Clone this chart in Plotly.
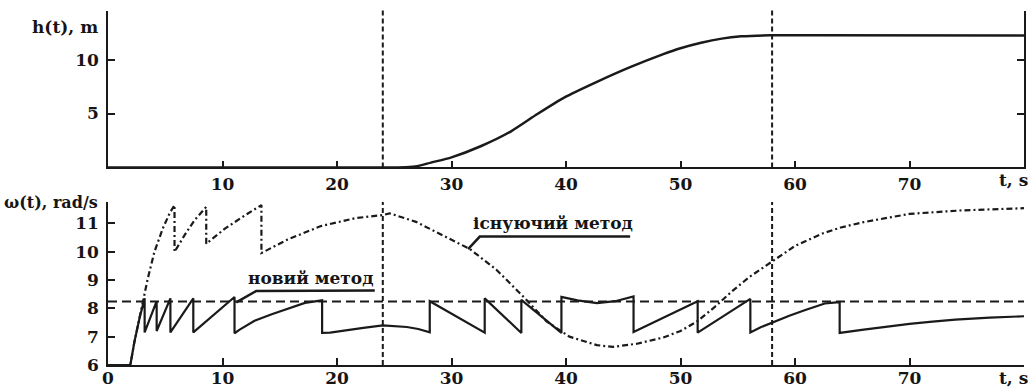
import plotly.graph_objects as go

# ---- data ----
h_t = [0, 24, 26, 27, 28.2, 30, 32.6, 35.2, 37.5, 39.8, 42.7, 45.6, 48.5, 50, 51.8, 53.6, 55.3, 57.8, 62, 80]
h_val = [0, 0, 0.03, 0.12, 0.45, 0.94, 1.99, 3.35, 4.95, 6.45, 7.93, 9.29, 10.5, 11.05, 11.56, 11.94, 12.15, 12.25, 12.25, 12.22]

new_t = [0, 1.95, 2.3, 2.75, 3.2, 3.2, 4.25, 4.25, 5.45, 5.45, 7.45, 7.45, 11.05, 11.05, 11.5, 12.8, 14.3,
         15.7, 17.2, 18.7, 18.7, 19.4, 21.0, 22.3, 24.0, 26.1, 27.1, 28.1, 28.1, 32.9, 32.9, 36.1, 36.1,
         39.6, 39.6, 41.0, 42.7, 44.3, 45.9, 45.9, 51.5, 51.5, 56.1, 56.1, 57.0, 58.0, 59.5, 60.9, 62.6,
         63.9, 63.9, 66.0, 68.0, 70.0, 72.0, 74.0, 77.0, 80.0]
new_w = [6.0, 6.0, 6.8, 7.65, 8.35, 7.15, 8.25, 7.2, 8.35, 7.15, 8.35, 7.15, 8.4, 7.12, 7.25, 7.56, 7.79,
         7.98, 8.19, 8.28, 7.13, 7.14, 7.24, 7.31, 7.4, 7.34, 7.27, 7.15, 8.25, 7.14, 8.35, 7.13, 8.3,
         7.13, 8.4, 8.28, 8.18, 8.25, 8.42, 7.16, 8.25, 7.14, 8.33, 7.15, 7.33, 7.5, 7.74, 7.94, 8.17,
         8.22, 7.13, 7.25, 7.36, 7.45, 7.53, 7.6, 7.67, 7.72]

old_t = [0, 1.95, 2.3, 2.75, 3.04, 3.19, 3.48, 4.06, 4.79, 5.38, 5.81, 5.81, 6.69, 7.56, 8.58, 8.58,
         10.18, 11.93, 13.4, 13.4, 15.7, 18.6, 21.6, 24.0, 24.6, 26.9, 29.3, 31.6, 33.9, 36.3, 38.3,
         40.3, 42.7, 44.1, 46.2, 48.5, 50.0, 51.5, 53.0, 54.5, 56.0, 58.0, 60.0, 62.4, 64.0, 66.0,
         70.0, 74.4, 80.0]
old_w = [6.0, 6.0, 6.8, 7.65, 8.23, 8.59, 9.06, 10.0, 10.82, 11.35, 11.64, 9.99, 10.58, 11.11, 11.58, 10.28,
         10.8, 11.27, 11.64, 9.95, 10.43, 10.9, 11.18, 11.29, 11.35, 11.05, 10.57, 10.09, 9.37, 8.4, 7.54,
         7.0, 6.7, 6.64, 6.75, 6.97, 7.2, 7.55, 8.05, 8.6, 9.1, 9.65, 10.2, 10.64, 10.85, 11.04,
         11.33, 11.45, 11.53]

ref_level = 8.24
marker_times = [24, 58]

top_xticks = [10, 20, 30, 40, 50, 60, 70]
bot_xticks = [0, 10, 20, 30, 40, 50, 60, 70]
top_yticks = [5, 10]
bot_yticks = [6, 7, 8, 9, 10, 11]

FONT = dict(family="DejaVu Serif", size=17, color="#151515", weight="bold")
FONT_SMALL = dict(family="DejaVu Serif", size=16, color="#151515", weight="bold")
INK = "#1a1a1a"

fig = go.Figure()
fig.add_trace(go.Scatter(x=h_t, y=h_val, mode="lines", line=dict(color=INK, width=2.5, shape="spline", smoothing=0.6),
                         xaxis="x", yaxis="y", showlegend=False, hoverinfo="skip"))
fig.add_trace(go.Scatter(x=old_t, y=old_w, mode="lines", line=dict(color=INK, width=2.2, dash="6px,3px,2px,3px"),
                         xaxis="x2", yaxis="y2", showlegend=False, hoverinfo="skip"))
fig.add_trace(go.Scatter(x=new_t, y=new_w, mode="lines", line=dict(color=INK, width=2.2),
                         xaxis="x2", yaxis="y2", showlegend=False, hoverinfo="skip"))

axis_common = dict(showgrid=False, zeroline=False, showline=True, linecolor=INK, linewidth=1.5,
                   ticks="inside", ticklen=7, tickwidth=1.5, tickcolor=INK, tickfont=FONT,
                   automargin=False)

fig.update_layout(
    width=1032, height=389,
    margin=dict(l=108, r=8, t=11, b=24, autoexpand=False),
    paper_bgcolor="white", plot_bgcolor="white",
    xaxis=dict(domain=[0, 1], range=[0, 80], anchor="y", tickvals=top_xticks, **axis_common),
    yaxis=dict(domain=[0.558, 1], range=[0, 14.5], anchor="x", tickvals=top_yticks, mirror="ticks",
               ticklabelstandoff=4, **axis_common),
    xaxis2=dict(domain=[0, 1], range=[0, 80], anchor="y2", tickvals=bot_xticks,
                ticklabelstandoff=-3, **axis_common),
    yaxis2=dict(domain=[0, 0.4605], range=[6, 11.75], anchor="x2", tickvals=bot_yticks,
                ticklabelstandoff=4, **axis_common),
)

shapes = []
for tm in marker_times:
    shapes.append(dict(type="line", xref="x", yref="y domain", x0=tm, x1=tm, y0=0, y1=1.02,
                       line=dict(color=INK, width=2, dash="5px,3px")))
    shapes.append(dict(type="line", xref="x2", yref="y2 domain", x0=tm, x1=tm, y0=0, y1=1.0,
                       line=dict(color=INK, width=2, dash="5px,3px")))
shapes.append(dict(type="line", xref="x2 domain", yref="y2", x0=0, x1=1, y0=ref_level, y1=ref_level,
                   line=dict(color=INK, width=2, dash="9px,5px")))
# leader lines for labels
shapes.append(dict(type="path", xref="x2", yref="y2", path="M 11.2 8.21 L 12.95 8.61 L 23.3 8.63",
                   line=dict(color=INK, width=2.5)))
shapes.append(dict(type="path", xref="x2", yref="y2", path="M 31.45 10.09 L 32.47 10.53 L 45.6 10.53",
                   line=dict(color=INK, width=2.5)))
fig.update_layout(shapes=shapes)

ann = [
    dict(text="h(t), m", xref="paper", yref="paper", x=-0.0087, y=0.955, xanchor="right", yanchor="middle", font=FONT),
    dict(text="ω(t), rad/s", xref="paper", yref="paper", x=-0.0087, y=0.458, xanchor="right", yanchor="middle", font=FONT_SMALL),
    dict(text="t, s", xref="paper", yref="paper", x=1.0066, y=0.5226, xanchor="right", yanchor="middle", font=FONT),
    dict(text="t, s", xref="paper", yref="paper", x=1.0066, y=-0.0367, xanchor="right", yanchor="middle", font=FONT),
    dict(text="новий метод", xref="x2", yref="y2", x=17.7, y=9.07, xanchor="center", yanchor="middle", font=FONT),
    dict(text="існуючий метод", xref="x2", yref="y2", x=38.9, y=11.01, xanchor="center", yanchor="middle", font=FONT),
]
for a in ann:
    a.update(showarrow=False)
fig.update_layout(annotations=ann)

fig.write_html("out.html", config={"displayModeBar": False},
               post_script="document.body.style.margin='0';document.body.style.overflow='hidden';")
